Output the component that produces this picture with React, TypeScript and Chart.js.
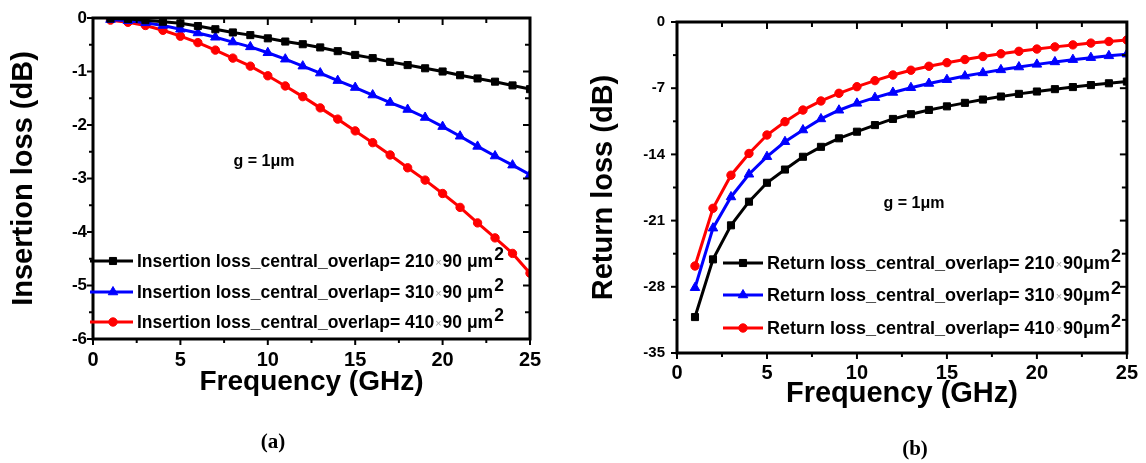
import React, { useEffect, useRef } from "react";
import { Chart, registerables } from "chart.js";

Chart.register(...registerables);

const FONT = 'Arial, "Liberation Sans", Helvetica, sans-serif';

// ---------- data ----------
const frequencyGHz = [1, 2, 3, 4, 5, 6, 7, 8, 9, 10, 11, 12, 13, 14, 15, 16, 17, 18, 19, 20, 21, 22, 23, 24, 25];

const insertion210 = [-0.01, -0.02, -0.04, -0.07, -0.1, -0.15, -0.21, -0.27, -0.32, -0.38, -0.44, -0.49, -0.55, -0.62, -0.69, -0.75, -0.82, -0.88, -0.94, -1.0, -1.07, -1.13, -1.19, -1.26, -1.33];
const insertion310 = [-0.03, -0.05, -0.09, -0.14, -0.21, -0.28, -0.36, -0.45, -0.54, -0.65, -0.77, -0.9, -1.03, -1.17, -1.3, -1.44, -1.58, -1.71, -1.86, -2.03, -2.21, -2.4, -2.58, -2.75, -2.93];
const insertion410 = [-0.04, -0.08, -0.14, -0.23, -0.34, -0.46, -0.6, -0.75, -0.9, -1.08, -1.27, -1.47, -1.68, -1.89, -2.11, -2.33, -2.56, -2.8, -3.03, -3.28, -3.54, -3.83, -4.11, -4.4, -4.77];

const return210 = [-31.2, -25.1, -21.5, -19.0, -17.0, -15.6, -14.25, -13.2, -12.3, -11.6, -10.9, -10.25, -9.75, -9.3, -8.92, -8.55, -8.2, -7.88, -7.6, -7.35, -7.1, -6.88, -6.67, -6.48, -6.3];
const return310 = [-28.1, -21.8, -18.5, -16.1, -14.24, -12.66, -11.42, -10.25, -9.33, -8.6, -8.0, -7.45, -6.95, -6.5, -6.1, -5.72, -5.38, -5.06, -4.76, -4.48, -4.22, -3.98, -3.77, -3.58, -3.4];
const return410 = [-25.8, -19.7, -16.2, -13.9, -11.95, -10.54, -9.31, -8.35, -7.54, -6.84, -6.2, -5.6, -5.1, -4.68, -4.3, -3.97, -3.65, -3.36, -3.1, -2.86, -2.63, -2.42, -2.23, -2.06, -1.9];

const insertionLabels = [
  "Insertion loss_central_overlap= 210×90 μm²",
  "Insertion loss_central_overlap= 310×90 μm²",
  "Insertion loss_central_overlap= 410×90 μm²",
];
const returnLabels = [
  "Return loss_central_overlap= 210×90μm²",
  "Return loss_central_overlap= 310×90μm²",
  "Return loss_central_overlap= 410×90μm²",
];

const seriesColors = ["#000000", "#0000ff", "#ff0000"];
const seriesMarkers = ["rect", "triangle", "circle"];
const seriesRadius = [5, 5.5, 4.2];

const xTickValues = [0, 5, 10, 15, 20, 25];
const insertionTickValues = [0, -1, -2, -3, -4, -5, -6];
const returnTickValues = [0, -7, -14, -21, -28, -35];

const xTitle = "Frequency (GHz)";
const insertionTitle = "Insertion loss (dB)";
const returnTitle = "Return loss (dB)";
const noteText = "g = 1μm";

// ---------- drawing helpers ----------
function drawMarker(ctx: CanvasRenderingContext2D, style: string, x: number, y: number, r: number, color: string) {
  ctx.save();
  ctx.fillStyle = color;
  ctx.strokeStyle = color;
  ctx.lineWidth = 1;
  ctx.beginPath();
  if (style === "rect") {
    const s = r * Math.SQRT1_2;
    ctx.rect(x - s, y - s, 2 * s, 2 * s);
  } else if (style === "triangle") {
    let a = 0;
    ctx.moveTo(x + Math.sin(a) * r, y - Math.cos(a) * r);
    a += (2 * Math.PI) / 3;
    ctx.lineTo(x + Math.sin(a) * r, y - Math.cos(a) * r);
    a += (2 * Math.PI) / 3;
    ctx.lineTo(x + Math.sin(a) * r, y - Math.cos(a) * r);
    ctx.closePath();
  } else {
    ctx.arc(x, y, r, 0, Math.PI * 2);
  }
  ctx.fill();
  ctx.stroke();
  ctx.restore();
}

const axisDecor = {
  id: "axisDecor",
  afterDatasetsDraw(chart: any, _args: any, o: any) {
    const { ctx, chartArea: a, scales } = chart;
    const xs = scales.x;
    const ys = scales.y;
    ctx.save();
    ctx.strokeStyle = "#000";
    ctx.lineCap = "butt";
    const seg = (x1: number, y1: number, x2: number, y2: number) => {
      ctx.beginPath();
      ctx.moveTo(x1, y1);
      ctx.lineTo(x2, y2);
      ctx.stroke();
    };
    ctx.lineWidth = 2;
    const isMajor = (v: number, m: number) => Math.abs(v / m - Math.round(v / m)) < 1e-6;
    for (let v = xs.min; v <= xs.max + 1e-9; v += o.xMinor) {
      const px = xs.getPixelForValue(v);
      const len = isMajor(v, o.xMajor) ? o.majorLen : o.minorLen;
      seg(px, a.bottom, px, a.bottom + len);
      seg(px, a.top, px, a.top + len + 1);
    }
    for (let v = ys.min; v <= ys.max + 1e-9; v += o.yMinor) {
      const py = ys.getPixelForValue(v);
      const len = isMajor(v, o.yMajor) ? o.majorLen : o.minorLen;
      seg(a.left - len, py, a.left, py);
      seg(a.right, py, a.right - len - 1, py);
    }
    ctx.lineWidth = 3;
    ctx.strokeRect(a.left, a.top, a.right - a.left, a.bottom - a.top);
    ctx.restore();
  },
};

const sketchLegend = {
  id: "sketchLegend",
  afterDraw(chart: any, _args: any, o: any) {
    const { ctx } = chart;
    ctx.save();
    chart.data.datasets.forEach((ds: any, i: number) => {
      const y = o.rows[i];
      ctx.strokeStyle = ds.borderColor;
      ctx.lineWidth = 3;
      ctx.beginPath();
      ctx.moveTo(o.x0, y);
      ctx.lineTo(o.x1, y);
      ctx.stroke();
      drawMarker(ctx, ds.pointStyle, o.xm, y, ds.pointRadius, ds.borderColor);

      const label: string = ds.label;
      const [head, rest] = label.split("×");
      const hasSup = rest.endsWith("²");
      const body = hasSup ? rest.slice(0, -1) : rest;
      const bold = `bold ${o.fontSize}px ${FONT}`;
      const base = y + o.baseShift;
      let x = o.xText;
      ctx.textAlign = "left";
      ctx.textBaseline = "alphabetic";
      ctx.font = bold;
      ctx.fillStyle = "#000";
      ctx.fillText(head, x, base);
      x += ctx.measureText(head).width + 1;
      ctx.font = `${Math.round(o.fontSize * 0.6)}px ${FONT}`;
      ctx.fillStyle = "#a0a0a0";
      ctx.fillText("×", x, base - 1);
      x += ctx.measureText("×").width + 1;
      ctx.font = bold;
      ctx.fillStyle = "#000";
      ctx.fillText(body, x, base);
      x += ctx.measureText(body).width;
      if (hasSup) ctx.fillText("2", x + 1, base - o.supShift);
    });
    ctx.restore();
  },
};

const noteLabel = {
  id: "noteLabel",
  afterDraw(chart: any, _args: any, o: any) {
    const { ctx } = chart;
    ctx.save();
    ctx.font = `bold ${o.fontSize}px ${FONT}`;
    ctx.fillStyle = "#000";
    ctx.textAlign = "center";
    ctx.textBaseline = "middle";
    ctx.fillText(o.text, o.x, o.y);
    ctx.restore();
  },
};

type PanelProps = {
  width: number;
  height: number;
  series: number[][];
  labels: string[];
  yTicks: number[];
  yMin: number;
  yMax: number;
  yMinor: number;
  yMajor: number;
  yTitle: string;
  layout: any;
};

function Panel(p: PanelProps) {
  const ref = useRef<HTMLCanvasElement | null>(null);
  useEffect(() => {
    if (!ref.current) return;
    const L = p.layout;
    const chart = new Chart(ref.current, {
      type: "line",
      data: {
        datasets: p.series.map((vals, i) => ({
          label: p.labels[i],
          data: vals.map((v, k) => ({ x: frequencyGHz[k], y: v })),
          borderColor: seriesColors[i],
          backgroundColor: seriesColors[i],
          borderWidth: 3,
          pointStyle: seriesMarkers[i],
          pointRadius: seriesRadius[i],
          pointBorderWidth: 1,
          pointBackgroundColor: seriesColors[i],
          pointBorderColor: seriesColors[i],
          tension: 0,
          fill: false,
        })),
      },
      options: {
        responsive: false,
        animation: false,
        events: [],
        layout: { padding: { left: 0, top: L.top, right: L.right, bottom: 0 } },
        plugins: {
          legend: { display: false },
          tooltip: { enabled: false },
          axisDecor: { xMinor: 2.5, xMajor: 5, yMinor: p.yMinor, yMajor: p.yMajor, majorLen: 6, minorLen: 4 },
          sketchLegend: L.legend,
          noteLabel: { text: noteText, x: L.note[0], y: L.note[1], fontSize: 16 },
        },
        scales: {
          x: {
            type: "linear",
            min: 0,
            max: 25,
            grid: { display: false, drawTicks: false, tickLength: 0 },
            border: { display: false },
            afterBuildTicks: (s: any) => {
              s.ticks = xTickValues.map((v) => ({ value: v }));
            },
            afterFit: (s: any) => {
              s.height = L.xHeight;
            },
            ticks: {
              color: "#000",
              font: { family: FONT, size: 20, weight: "bold" },
              padding: L.xTickPad,
              maxRotation: 0,
              autoSkip: false,
              callback: (v: any) => String(v),
            },
            title: {
              display: true,
              text: xTitle,
              color: "#000",
              font: { family: FONT, size: L.titleSize, weight: "bold" },
              padding: { top: 0, bottom: L.xTitlePad },
            },
          },
          y: {
            type: "linear",
            min: p.yMin,
            max: p.yMax,
            grid: { display: false, drawTicks: false, tickLength: 0 },
            border: { display: false },
            afterBuildTicks: (s: any) => {
              s.ticks = p.yTicks.map((v) => ({ value: v }));
            },
            afterFit: (s: any) => {
              s.width = L.yWidth;
            },
            ticks: {
              color: "#000",
              font: { family: FONT, size: L.yTickSize, weight: "bold" },
              padding: L.yTickPad,
              autoSkip: false,
              callback: (v: any) => String(v),
            },
            title: {
              display: true,
              text: p.yTitle,
              color: "#000",
              font: { family: FONT, size: L.yTitleSize, weight: "bold" },
              padding: { top: L.yTitlePad, bottom: 0 },
            },
          },
        },
      } as any,
      plugins: [axisDecor, sketchLegend, noteLabel],
    });
    return () => chart.destroy();
  }, []);
  return <canvas ref={ref} width={p.width} height={p.height} style={{ display: "block", width: p.width, height: p.height }} />;
}

const leftLayout = {
  top: 18,
  right: 45,
  yWidth: 93,
  xHeight: 124,
  xTickPad: 9,
  xTitlePad: 64,
  yTickPad: 6,
  yTickSize: 17,
  yTitlePad: 7,
  yTitleSize: 29,
  titleSize: 28,
  note: [264, 162],
  legend: { x0: 90, x1: 133, xm: 113, xText: 137, rows: [261, 292, 322], fontSize: 17.5, baseShift: 6, supShift: 7 },
};

const rightLayout = {
  top: 22,
  right: 18,
  yWidth: 102,
  xHeight: 110,
  xTickPad: 8,
  xTitlePad: 52,
  yTickPad: 12,
  yTickSize: 15,
  yTitlePad: 12,
  yTitleSize: 29,
  titleSize: 29,
  note: [339, 204],
  legend: { x0: 148, x1: 188, xm: 168, xText: 192, rows: [263, 295, 328], fontSize: 18, baseShift: 6, supShift: 7 },
};

export default function App() {
  const captionStyle: React.CSSProperties = {
    position: "absolute",
    fontFamily: '"Times New Roman", "Liberation Serif", serif',
    fontWeight: "bold",
    fontSize: 21,
    transform: "translate(-50%, -50%)",
    color: "#000",
    lineHeight: 1,
  };
  return (
    <div style={{ position: "absolute", left: 0, top: 0, width: 1146, height: 463, background: "#fff", overflow: "hidden" }}>
      <div style={{ position: "absolute", left: 0, top: 0 }}>
        <Panel
          width={575}
          height={463}
          series={[insertion210, insertion310, insertion410]}
          labels={insertionLabels}
          yTicks={insertionTickValues}
          yMin={-6}
          yMax={0}
          yMinor={0.5}
          yMajor={1}
          yTitle={insertionTitle}
          layout={leftLayout}
        />
      </div>
      <div style={{ position: "absolute", left: 575, top: 0 }}>
        <Panel
          width={571}
          height={463}
          series={[return210, return310, return410]}
          labels={returnLabels}
          yTicks={returnTickValues}
          yMin={-35}
          yMax={0}
          yMinor={3.5}
          yMajor={7}
          yTitle={returnTitle}
          layout={rightLayout}
        />
      </div>
      <div style={{ ...captionStyle, left: 273, top: 441 }}>(a)</div>
      <div style={{ ...captionStyle, left: 915, top: 448 }}>(b)</div>
    </div>
  );
}
